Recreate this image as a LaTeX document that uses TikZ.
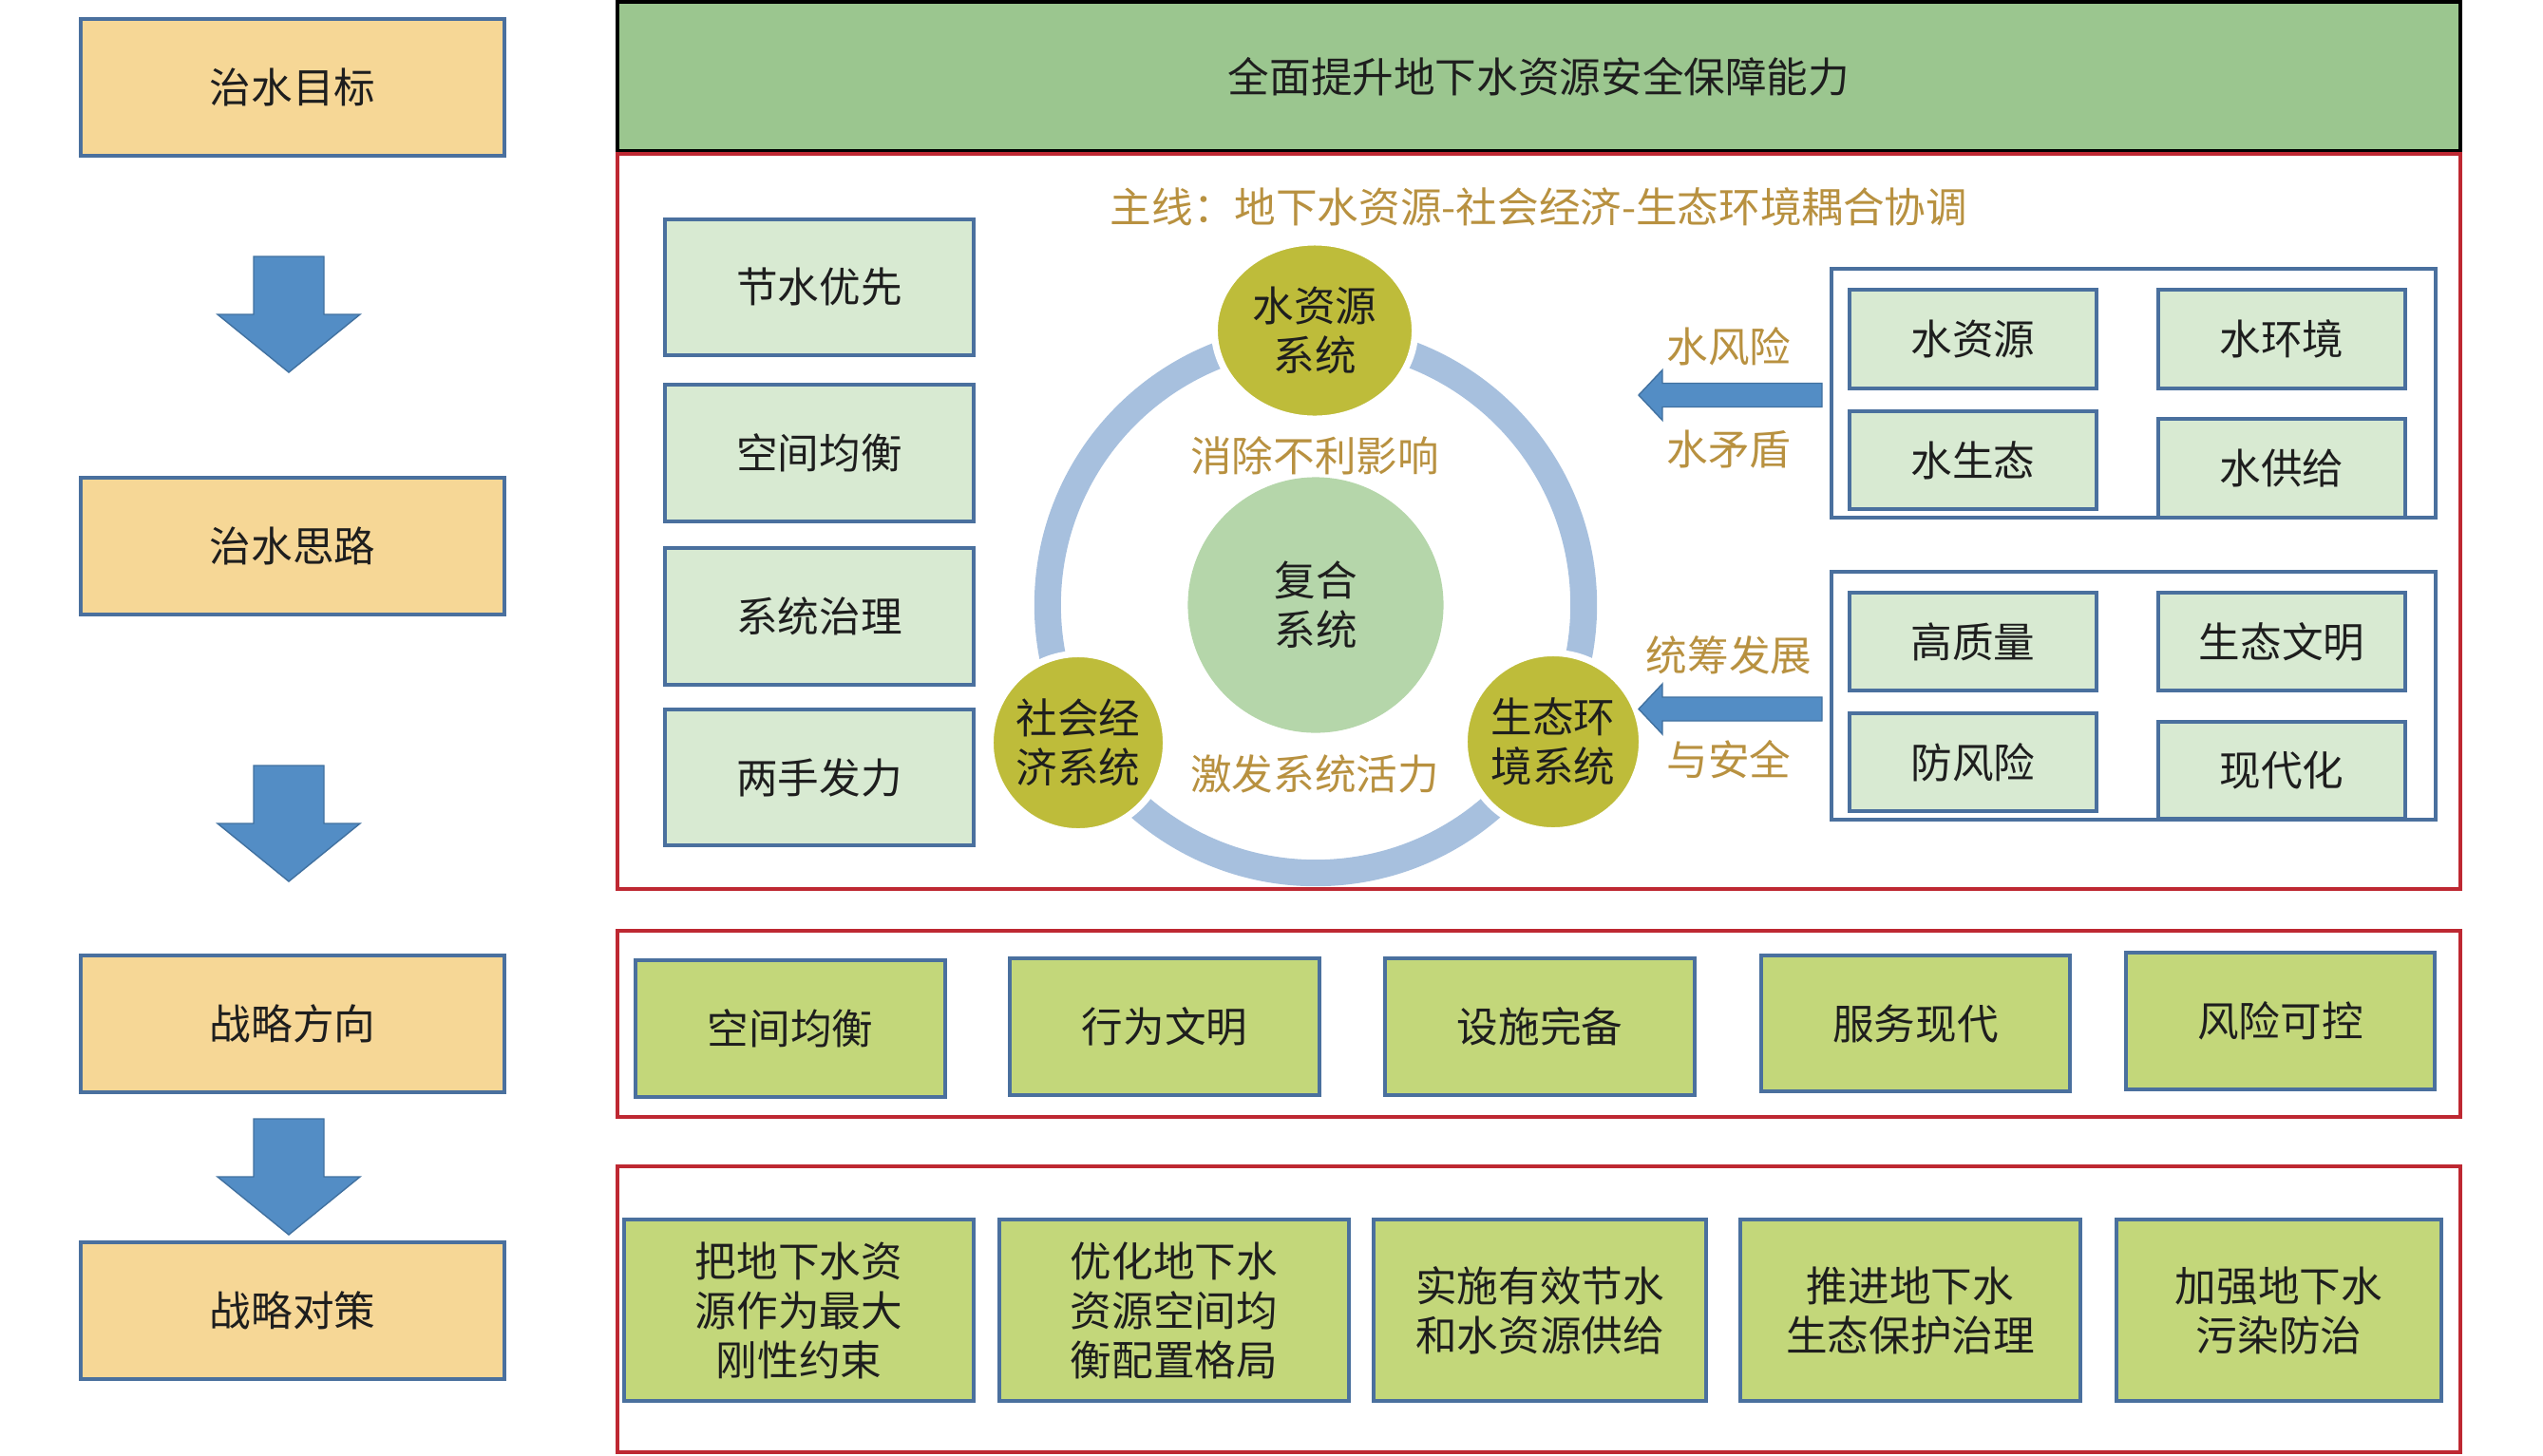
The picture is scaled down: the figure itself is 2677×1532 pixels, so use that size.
\documentclass[tikz,border=0pt]{standalone}
\usepackage{fontspec}
\setmainfont{Noto Sans CJK SC}
\usepackage{tikz}
\usetikzlibrary{shapes.geometric}
\definecolor{boxBorder}{RGB}{74,112,158}
\definecolor{goalFill}{RGB}{246,215,150}
\definecolor{targetFill}{RGB}{155,198,143}
\definecolor{frameRed}{RGB}{190,40,50}
\definecolor{pathFill}{RGB}{216,234,210}
\definecolor{directionFill}{RGB}{195,215,122}
\definecolor{arrowBlue}{RGB}{83,141,197}
\definecolor{arrowBorder}{RGB}{65,113,160}
\definecolor{ringBlue}{RGB}{167,192,222}
\definecolor{systemFill}{RGB}{190,188,58}
\definecolor{coreFill}{RGB}{181,214,170}
\definecolor{goldColor}{RGB}{184,145,64}
\definecolor{textColor}{RGB}{30,30,30}
\newcommand{\mainText}{\fontsize{12.4pt}{14.8pt}\selectfont}
\tikzstyle{diagram} = [x = 0.01cm, y = -0.01cm]
\tikzstyle{boxText} = [midway, align=center, inner sep=0pt, text=textColor, font=\mainText]
\tikzstyle{goalStyle} = [fill=goalFill, draw=boxBorder, line width=1.1pt]
\tikzstyle{pathStyle} = [fill=pathFill, draw=boxBorder, line width=1.1pt]
\tikzstyle{directionStyle} = [fill=directionFill, draw=boxBorder, line width=1.1pt]
\tikzstyle{targetStyle} = [fill=targetFill, draw=black, line width=1.4pt]
\tikzstyle{frameLine} = [draw=frameRed, line width=0.9pt]
\tikzstyle{groupLine} = [draw=boxBorder, line width=0.9pt]
\tikzstyle{blockArrow} = [fill=arrowBlue, draw=arrowBorder, line width=0.4pt]
\tikzstyle{ringLine} = [draw=ringBlue, line width=0.28cm]
\tikzstyle{systemCircle} = [ellipse, fill=systemFill, draw=white, line width=2pt, align=center, inner sep=0pt, text=textColor, font=\mainText]
\tikzstyle{coreCircle} = [circle, fill=coreFill, minimum size=2.69cm, align=center, inner sep=0pt, text=textColor, font=\mainText]
\tikzstyle{goldLabel} = [inner sep=0pt, text=goldColor, font=\mainText]
\newcommand{\labelBox}[7]{\filldraw [#1] (#2, #3) rectangle (#4, #5) node [boxText] (#6) {#7};}
\newcommand{\downArrow}[2]{\filldraw [blockArrow] (#1 - 37, #2) -- ++(74, 0) -- ++(0, 61) -- ++(38, 0) -- (#1, #2 + 122) -- ++(-75, -61) -- ++(38, 0) -- cycle;}
\newcommand{\leftArrow}[1]{\filldraw [blockArrow] (1918, #1 - 12.5) -- (1750, #1 - 12.5) -- (1750, #1 - 26.5) -- (1725, #1) -- (1750, #1 + 26.5) -- (1750, #1 + 12.5) -- (1918, #1 + 12.5) -- cycle;}

\begin{document}
\begin{tikzpicture}[diagram]
      \useasboundingbox (0, 0) rectangle (2677, 1532);

      % left column
      \labelBox{goalStyle}{85}{20}{531}{164}{goal}{治水目标}
      \labelBox{goalStyle}{85}{503}{531}{647}{idea}{治水思路}
      \labelBox{goalStyle}{85}{1006}{531}{1150}{direction}{战略方向}
      \labelBox{goalStyle}{85}{1308}{531}{1452}{measure}{战略对策}
      \downArrow{304}{270}
      \downArrow{304}{806}
      \downArrow{304}{1178}

      % target
      \labelBox{targetStyle}{650}{2}{2590}{159}{target}{全面提升地下水资源安全保障能力}

      % main line
      \draw [frameLine] (650, 162) rectangle (2590, 936);
      \node [goldLabel] (mainLine) at (1620, 218) {主线：地下水资源-社会经济-生态环境耦合协调};
      \labelBox{pathStyle}{700}{231}{1025}{374}{saving}{节水优先}
      \labelBox{pathStyle}{700}{405}{1025}{549}{balance}{空间均衡}
      \labelBox{pathStyle}{700}{577}{1025}{721}{system}{系统治理}
      \labelBox{pathStyle}{700}{747}{1025}{890}{hands}{两手发力}

      \coordinate (ringCenter) at (1385, 637);
      \draw [ringLine] (ringCenter) circle [radius = 2.82cm];
      \node [coreCircle] (core) at (ringCenter) {复合\\系统};
      \node [systemCircle, minimum width = 2.11cm, minimum height = 1.86cm] (water) at (1384, 348) {水资源\\系统};
      \node [systemCircle, minimum width = 1.85cm, minimum height = 1.87cm] (society) at (1135, 782) {社会经\\济系统};
      \node [systemCircle, minimum width = 1.87cm, minimum height = 1.87cm] (ecology) at (1635, 781) {生态环\\境系统};
      \node [goldLabel] (eliminate) at (1384, 480) {消除不利影响};
      \node [goldLabel] (activate) at (1384, 815) {激发系统活力};

      \draw [groupLine] (1928, 283) rectangle (2564, 545);
      \labelBox{pathStyle}{1947}{305}{2207}{409}{resource}{水资源}
      \labelBox{pathStyle}{2272}{305}{2532}{409}{environment}{水环境}
      \labelBox{pathStyle}{1947}{433}{2207}{536}{ecosystem}{水生态}
      \labelBox{pathStyle}{2272}{441}{2532}{545}{supply}{水供给}
      \leftArrow{416}
      \node [goldLabel] (risk) at (1820, 365) {水风险};
      \node [goldLabel] (conflict) at (1820, 473) {水矛盾};

      \draw [groupLine] (1928, 602) rectangle (2564, 863);
      \labelBox{pathStyle}{1947}{624}{2207}{727}{quality}{高质量}
      \labelBox{pathStyle}{2272}{624}{2532}{727}{civilization}{生态文明}
      \labelBox{pathStyle}{1947}{751}{2207}{854}{prevention}{防风险}
      \labelBox{pathStyle}{2272}{760}{2532}{862}{modern}{现代化}
      \leftArrow{746.5}
      \node [goldLabel] (develop) at (1820, 690) {统筹发展};
      \node [goldLabel] (safety) at (1820, 800) {与安全};

      % directions
      \draw [frameLine] (650, 980) rectangle (2590, 1176);
      \labelBox{directionStyle}{669}{1011}{995}{1155}{spatial}{空间均衡}
      \labelBox{directionStyle}{1063}{1009}{1389}{1153}{behaviour}{行为文明}
      \labelBox{directionStyle}{1458}{1009}{1784}{1153}{facility}{设施完备}
      \labelBox{directionStyle}{1854}{1006}{2179}{1149}{service}{服务现代}
      \labelBox{directionStyle}{2238}{1003}{2563}{1147}{control}{风险可控}

      % measures
      \draw [frameLine] (650, 1228) rectangle (2590, 1529);
      \labelBox{directionStyle}{657}{1284}{1025}{1475}{constraint}{把地下水资\\源作为最大\\刚性约束}
      \labelBox{directionStyle}{1052}{1284}{1420}{1475}{allocation}{优化地下水\\资源空间均\\衡配置格局}
      \labelBox{directionStyle}{1446}{1284}{1796}{1475}{conserve}{实施有效节水\\和水资源供给}
      \labelBox{directionStyle}{1832}{1284}{2190}{1475}{protect}{推进地下水\\生态保护治理}
      \labelBox{directionStyle}{2228}{1284}{2570}{1475}{pollution}{加强地下水\\污染防治}
    \end{tikzpicture}
\end{document}
